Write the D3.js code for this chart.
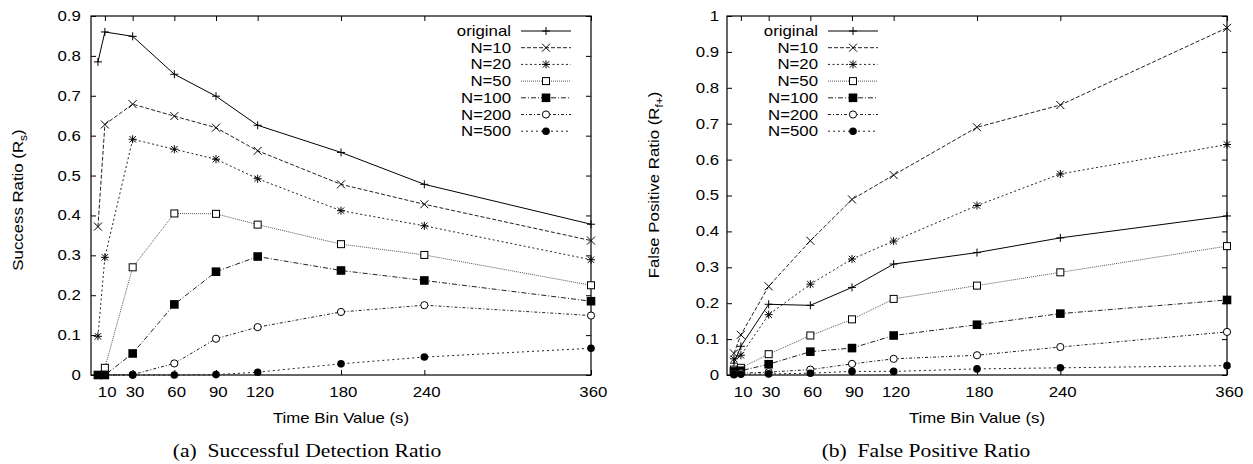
<!DOCTYPE html>
<html>
<head>
<meta charset="utf-8">
<script src="https://cdn.jsdelivr.net/npm/d3@7"></script>
<style>
  body { margin: 0; background: #fff; }
  text { font-family: "Liberation Sans", Arial, sans-serif; fill: #000; }
  text.caption { font-family: "Liberation Serif", "Times New Roman", serif; }
</style>
</head>
<body>
<div id="chart"></div>
<script>
// ---- data ----
const timeBins = [5, 10, 30, 60, 90, 120, 180, 240, 360];
const xTickValues = [10, 30, 60, 90, 120, 180, 240, 360];
const seriesNames = ["original", "N=10", "N=20", "N=50", "N=100", "N=200", "N=500"];

// (a) success ratio
const successOriginal = [0.785, 0.860, 0.849, 0.754, 0.699, 0.626, 0.558, 0.478, 0.378];
const successN10  = [0.372, 0.628, 0.679, 0.649, 0.620, 0.562, 0.478, 0.428, 0.337];
const successN20  = [0.097, 0.295, 0.591, 0.566, 0.541, 0.492, 0.412, 0.374, 0.289];
const successN50  = [0.000, 0.018, 0.270, 0.405, 0.404, 0.377, 0.328, 0.301, 0.225];
const successN100 = [0.000, 0.000, 0.054, 0.177, 0.259, 0.297, 0.262, 0.237, 0.185];
const successN200 = [0.000, 0.000, 0.001, 0.029, 0.091, 0.120, 0.158, 0.175, 0.149];
const successN500 = [0.000, 0.000, 0.000, 0.000, 0.001, 0.007, 0.028, 0.045, 0.067];

// (b) false positive ratio
const fpOriginal = [0.033, 0.080, 0.197, 0.194, 0.244, 0.309, 0.341, 0.382, 0.443];
const fpN10  = [0.060, 0.112, 0.247, 0.374, 0.489, 0.557, 0.690, 0.752, 0.967];
const fpN20  = [0.045, 0.055, 0.168, 0.253, 0.323, 0.373, 0.472, 0.560, 0.642];
const fpN50  = [0.015, 0.020, 0.058, 0.110, 0.155, 0.212, 0.249, 0.286, 0.359];
const fpN100 = [0.010, 0.012, 0.030, 0.065, 0.075, 0.110, 0.140, 0.171, 0.209];
const fpN200 = [0.003, 0.005, 0.008, 0.015, 0.031, 0.045, 0.055, 0.078, 0.120];
const fpN500 = [0.001, 0.002, 0.003, 0.005, 0.010, 0.010, 0.017, 0.020, 0.026];

// ---- styles per series ----
const dashes  = [null, "4,2", "2,2.5", "1,1", "5,2,1,2", "3,2,1,2", "2,3"];
const strokes = ["#000", "#222", "#222", "#555", "#222", "#222", "#222"];
const markers = ["plus", "cross", "star", "square", "squareFilled", "circle", "circleFilled"];

const SX = 1.2;      // text in the reference is wider than it is tall
const FONT = 14;

const W = 1253, H = 464;
const svg = d3.select("#chart").append("svg")
  .attr("width", W).attr("height", H);

function stext(parent, x, y, str, anchor, size) {
  return parent.append("text")
    .attr("transform", `translate(${x},${y}) scale(${SX},1)`)
    .attr("text-anchor", anchor).attr("font-size", size).text(str);
}

function drawMarker(g, type, x, y) {
  const s = 4;
  if (type === "plus") {
    g.append("path").attr("d", `M${x - s},${y}H${x + s}M${x},${y - s}V${y + s}`)
      .attr("stroke", "#000").attr("fill", "none");
  } else if (type === "cross") {
    g.append("path").attr("d", `M${x - s},${y - s}L${x + s},${y + s}M${x - s},${y + s}L${x + s},${y - s}`)
      .attr("stroke", "#000").attr("fill", "none");
  } else if (type === "star") {
    g.append("path").attr("d", `M${x - s},${y}H${x + s}M${x},${y - s}V${y + s}M${x - s * 0.8},${y - s * 0.8}L${x + s * 0.8},${y + s * 0.8}M${x - s * 0.8},${y + s * 0.8}L${x + s * 0.8},${y - s * 0.8}`)
      .attr("stroke", "#000").attr("fill", "none");
  } else if (type === "square") {
    g.append("rect").attr("x", x - 3.5).attr("y", y - 3.5).attr("width", 7).attr("height", 7)
      .attr("stroke", "#000").attr("fill", "#fff");
  } else if (type === "squareFilled") {
    g.append("rect").attr("x", x - 4.3).attr("y", y - 4.3).attr("width", 8.6).attr("height", 8.6)
      .attr("fill", "#000");
  } else if (type === "circle") {
    g.append("circle").attr("cx", x).attr("cy", y).attr("r", 3.6)
      .attr("stroke", "#000").attr("fill", "#fff");
  } else if (type === "circleFilled") {
    g.append("circle").attr("cx", x).attr("cy", y).attr("r", 3.8).attr("fill", "#000");
  }
}

function drawPanel(cfg) {
  const x = d3.scaleLinear().domain([0, 360]).range([cfg.left, cfg.right]);
  const y = d3.scaleLinear().domain([0, cfg.yMax]).range([cfg.bottom, cfg.top]);
  const g = svg.append("g");
  const fmt = d => d === 0 ? "0" : d3.format(".1~f")(d);
  const yTicks = d3.range(0, cfg.yMax + 0.001, 0.1).map(v => +v.toFixed(1));

  // axes with inward ticks on all four sides (gnuplot mirror style)
  g.append("g").attr("transform", `translate(0,${cfg.bottom})`)
    .call(d3.axisBottom(x).tickValues(xTickValues).tickSizeInner(-5).tickSizeOuter(0).tickPadding(12))
    .call(a => a.select(".domain").remove())
    .call(a => a.selectAll(".tick text").attr("dx", 1.5));
  g.append("g").attr("transform", `translate(0,${cfg.top})`)
    .call(d3.axisTop(x).tickValues(xTickValues).tickSizeInner(-5).tickSizeOuter(0).tickFormat(""))
    .call(a => a.select(".domain").remove());
  g.append("g").attr("transform", `translate(${cfg.left},0)`)
    .call(d3.axisLeft(y).tickValues(yTicks).tickFormat(fmt).tickSizeInner(-5).tickSizeOuter(0).tickPadding(cfg.yPad))
    .call(a => a.select(".domain").remove());
  g.append("g").attr("transform", `translate(${cfg.right},0)`)
    .call(d3.axisRight(y).tickValues(yTicks).tickFormat("").tickSizeInner(-5).tickSizeOuter(0))
    .call(a => a.select(".domain").remove());
  g.selectAll(".tick text").attr("font-size", FONT).attr("fill", "#000")
    .attr("transform", `scale(${SX},1)`);
  g.selectAll(".tick line").attr("stroke", "#000");

  // frame
  g.append("rect").attr("x", cfg.left).attr("y", cfg.top)
    .attr("width", cfg.right - cfg.left).attr("height", cfg.bottom - cfg.top)
    .attr("fill", "none").attr("stroke", "#000").attr("stroke-width", 1.2);

  // series lines and markers
  const line = d3.line().x((d, i) => x(timeBins[i])).y(d => y(d));
  cfg.series.forEach((vals, si) => {
    g.append("path").datum(vals).attr("d", line)
      .attr("fill", "none").attr("stroke", strokes[si]).attr("stroke-width", 1)
      .attr("stroke-dasharray", dashes[si]);
    const mg = g.append("g");
    vals.forEach((v, i) => drawMarker(mg, markers[si], x(timeBins[i]), y(v)));
  });

  // legend
  const lg = g.append("g");
  seriesNames.forEach((name, si) => {
    const ly = cfg.legendY + si * 16.7;
    stext(lg, cfg.legendX, ly, name, "end", FONT).attr("dy", "0.36em");
    lg.append("line").attr("x1", cfg.legendX + 10).attr("x2", cfg.legendX + 60)
      .attr("y1", ly).attr("y2", ly)
      .attr("stroke", strokes[si]).attr("stroke-width", 1).attr("stroke-dasharray", dashes[si]);
    drawMarker(lg, markers[si], cfg.legendX + 35, ly);
  });

  // axis titles
  stext(g, (cfg.left + cfg.right) / 2, 423, "Time Bin Value (s)", "middle", FONT);
  const yl = g.append("text")
    .attr("transform", `translate(${cfg.yLabelX},${cfg.yLabelY}) rotate(-90) scale(${SX},1)`)
    .attr("text-anchor", "middle").attr("font-size", FONT);
  yl.append("tspan").text(cfg.yLabel);
  yl.append("tspan").attr("dy", 4).attr("font-size", 10).text(cfg.ySub);
  yl.append("tspan").attr("dy", -4).text(")");

  // caption
  stext(g, cfg.captionX, 457, cfg.caption, "middle", 18)
    .attr("class", "caption")
    .attr("xml:space", "preserve");
}

drawPanel({
  left: 91, right: 591, top: 16, bottom: 375, yMax: 0.9, yPad: 8.5,
  series: [successOriginal, successN10, successN20, successN50, successN100, successN200, successN500],
  legendX: 511, legendY: 31,
  yLabel: "Success Ratio (R", ySub: "s", yLabelX: 23, yLabelY: 200,
  caption: "(a)  Successful Detection Ratio", captionX: 307
});

drawPanel({
  left: 727, right: 1227, top: 16, bottom: 375, yMax: 1.0, yPad: 6.5,
  series: [fpOriginal, fpN10, fpN20, fpN50, fpN100, fpN200, fpN500],
  legendX: 818, legendY: 31,
  yLabel: "False Positive Ratio (R", ySub: "f+", yLabelX: 659, yLabelY: 185,
  caption: "(b)  False Positive Ratio", captionX: 926
});
</script>
</body>
</html>
